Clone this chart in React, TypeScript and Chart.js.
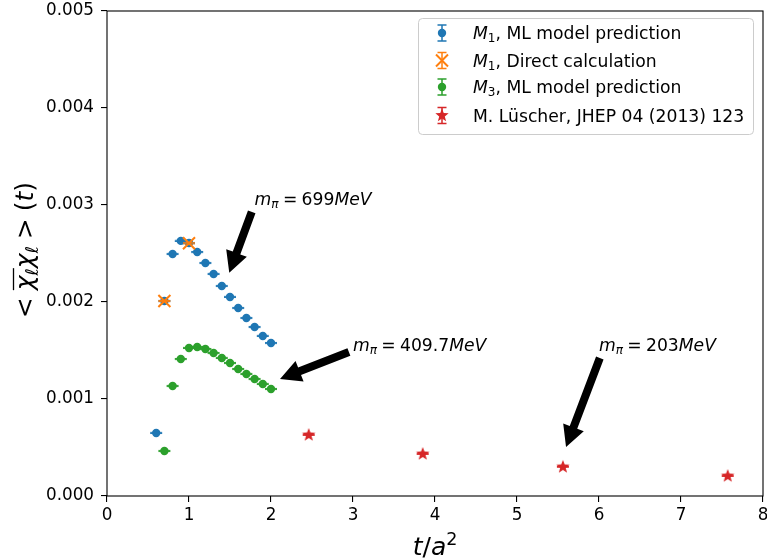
import { useEffect, useRef } from 'react';
import { Chart, registerables } from 'chart.js';

Chart.register(...registerables);

// ---------- data ----------
const blueT = [0.6, 0.7, 0.8, 0.9, 1.0, 1.1, 1.2, 1.3, 1.4, 1.5, 1.6, 1.7, 1.8, 1.9, 2.0];
const blueV = [0.00065, 0.00201, 0.002495, 0.00263, 0.002608, 0.002515, 0.002402, 0.002289, 0.002165, 0.002052, 0.001938, 0.001835, 0.001742, 0.00165, 0.001577];
const blueErr = [0.000006, 0.000006, 0.000006, 0.000006, 0.000006, 0.000006, 0.000006, 0.000006, 0.000006, 0.000006, 0.000006, 0.000006, 0.000006, 0.000006, 0.000006];

const orangeT = [0.7, 1.0];
const orangeV = [0.00201, 0.002605];
const orangeErr = [0.000006, 0.000006];

const greenT = [0.7, 0.8, 0.9, 1.0, 1.1, 1.2, 1.3, 1.4, 1.5, 1.6, 1.7, 1.8, 1.9, 2.0];
const greenV = [0.000464, 0.001134, 0.001412, 0.001526, 0.001536, 0.001515, 0.001474, 0.001423, 0.001371, 0.001309, 0.001258, 0.001206, 0.001155, 0.001103];
const greenErr = [0.000006, 0.000006, 0.000006, 0.000006, 0.000006, 0.000006, 0.000006, 0.000006, 0.000006, 0.000006, 0.000006, 0.000006, 0.000006, 0.000006];

const redT = [2.46, 3.85, 5.56, 7.57];
const redV = [0.000629, 0.000433, 0.0003, 0.000206];
const redErr = [0.000004, 0.000004, 0.000004, 0.000004];

const xTicksMin = 0;
const xTicksMax = 8;
const yTicksMin = 0;
const yTicksMax = 0.005;

const annotTextX = [1.8, 3.0, 6.0];
const annotTextY = [0.003, 0.0015, 0.0015];
const annotMass = ['699', '409.7', '203'];
const arrowTailX = [1.765, 2.95, 6.01];
const arrowTailY = [0.00293, 0.001485, 0.001423];
const arrowTipX = [1.491, 2.11, 5.598];
const arrowTipY = [0.002302, 0.001206, 0.000505];

const legendLabels = [', ML model prediction', ', Direct calculation', ', ML model prediction', 'M. Lüscher, JHEP 04 (2013) 123'];
const legendSubs = ['1', '1', '3', ''];

// ---------- style ----------
const BLUE = '#1f77b4';
const ORANGE = '#ff7f0e';
const GREEN = '#2ca02c';
const RED = '#d62728';
const FAM = '"DejaVu Sans", sans-serif';
const TICK_SIZE = 16.8;
const TEXT_SIZE = 17.2;

type Run = { t: string; it?: boolean; s?: number; dy?: number; dx?: number };

function fontOf(r: Run, size: number) {
  return `${r.it ? 'italic ' : ''}${size * (r.s || 1)}px ${FAM}`;
}
function runsWidth(ctx: CanvasRenderingContext2D, runs: Run[], size: number) {
  let w = 0;
  for (const r of runs) {
    ctx.font = fontOf(r, size);
    w += (r.dx || 0) * size + ctx.measureText(r.t).width;
  }
  return w;
}
function drawRuns(ctx: CanvasRenderingContext2D, runs: Run[], x: number, y: number, size: number) {
  let cx = x;
  const pos: number[] = [];
  for (const r of runs) {
    ctx.font = fontOf(r, size);
    cx += (r.dx || 0) * size;
    pos.push(cx);
    ctx.fillText(r.t, cx, y + (r.dy || 0) * size);
    cx += ctx.measureText(r.t).width;
  }
  pos.push(cx);
  return pos;
}

function starPath(ctx: CanvasRenderingContext2D, x: number, y: number, R: number) {
  ctx.beginPath();
  for (let i = 0; i < 10; i++) {
    const r = i % 2 ? R * 0.42 : R;
    const a = -Math.PI / 2 + (i * Math.PI) / 5;
    ctx.lineTo(x + r * Math.cos(a), y + r * Math.sin(a));
  }
  ctx.closePath();
}

function makeStar(color: string, R: number) {
  const c = document.createElement('canvas');
  const s = Math.ceil(R * 2 + 2);
  c.width = s;
  c.height = s;
  const g = c.getContext('2d')!;
  starPath(g, s / 2, s / 2, R);
  g.fillStyle = color;
  g.fill();
  return c;
}

function drawArrow(ctx: CanvasRenderingContext2D, x0: number, y0: number, x1: number, y1: number) {
  const w = 8, hw = 22, hl = 21;
  const dx = x1 - x0, dy = y1 - y0;
  const L = Math.hypot(dx, dy);
  const ux = dx / L, uy = dy / L;
  const nx = -uy, ny = ux;
  const bx = x1 - ux * hl, by = y1 - uy * hl;
  ctx.beginPath();
  ctx.moveTo(x0 + nx * w / 2, y0 + ny * w / 2);
  ctx.lineTo(bx + nx * w / 2, by + ny * w / 2);
  ctx.lineTo(bx + nx * hw / 2, by + ny * hw / 2);
  ctx.lineTo(x1, y1);
  ctx.lineTo(bx - nx * hw / 2, by - ny * hw / 2);
  ctx.lineTo(bx - nx * w / 2, by - ny * w / 2);
  ctx.lineTo(x0 - nx * w / 2, y0 - ny * w / 2);
  ctx.closePath();
  ctx.fillStyle = '#000';
  ctx.fill();
}

const errs = [blueErr, orangeErr, greenErr, redErr];
const colors = [BLUE, ORANGE, GREEN, RED];

const overlayPlugin = {
  id: 'overlay',
  afterDatasetDraw(chart: any, args: any) {
    const ctx: CanvasRenderingContext2D = chart.ctx;
    const idx = args.index;
    const ds = chart.data.datasets[idx];
    const xs = chart.scales.x, ys = chart.scales.y;
    const e = errs[idx];
    ctx.save();
    ctx.strokeStyle = colors[idx];
    ctx.lineWidth = 1;
    ds.data.forEach((p: any, i: number) => {
      const px = xs.getPixelForValue(p.x);
      const pt = ys.getPixelForValue(p.y + e[i]);
      const pb = ys.getPixelForValue(p.y - e[i]);
      ctx.beginPath();
      ctx.moveTo(px, pt);
      ctx.lineTo(px, pb);
      ctx.moveTo(px - 6, pt);
      ctx.lineTo(px + 6, pt);
      ctx.moveTo(px - 6, pb);
      ctx.lineTo(px + 6, pb);
      ctx.stroke();
    });
    ctx.restore();
  },
  afterDraw(chart: any) {
    const ctx: CanvasRenderingContext2D = chart.ctx;
    const { left, right, top, bottom } = chart.chartArea;
    const xs = chart.scales.x, ys = chart.scales.y;
    ctx.save();
    // frame
    ctx.strokeStyle = '#000';
    ctx.lineWidth = 1.1;
    ctx.strokeRect(left, top, right - left, bottom - top);

    // arrows + annotations
    ctx.textBaseline = 'alphabetic';
    ctx.textAlign = 'left';
    for (let i = 0; i < annotMass.length; i++) {
      drawArrow(ctx, xs.getPixelForValue(arrowTailX[i]), ys.getPixelForValue(arrowTailY[i]),
        xs.getPixelForValue(arrowTipX[i]), ys.getPixelForValue(arrowTipY[i]));
      ctx.fillStyle = '#000';
      const runs: Run[] = [
        { t: 'm', it: true },
        { t: 'π', it: true, s: 0.7, dy: 0.2 },
        { t: '=', dx: 0.25 },
        { t: annotMass[i], dx: 0.25 },
        { t: 'MeV', it: true },
      ];
      drawRuns(ctx, runs, xs.getPixelForValue(annotTextX[i]), ys.getPixelForValue(annotTextY[i]), TEXT_SIZE);
    }

    // legend
    const lx0 = 418, ly0 = 18, lx1 = 753, ly1 = 134;
    ctx.beginPath();
    (ctx as any).roundRect(lx0 + 0.5, ly0 + 0.5, lx1 - lx0, ly1 - ly0, 4);
    ctx.fillStyle = 'rgba(255,255,255,0.8)';
    ctx.fill();
    ctx.strokeStyle = '#cccccc';
    ctx.lineWidth = 1;
    ctx.stroke();
    const rowY = [33, 60.5, 87, 115.5];
    const mx = 442;
    for (let i = 0; i < 4; i++) {
      const y = rowY[i];
      ctx.strokeStyle = colors[i];
      ctx.lineWidth = 1.5;
      ctx.beginPath();
      ctx.moveTo(mx, y - 8);
      ctx.lineTo(mx, y + 8);
      ctx.moveTo(mx - 4.5, y - 8);
      ctx.lineTo(mx + 4.5, y - 8);
      ctx.moveTo(mx - 4.5, y + 8);
      ctx.lineTo(mx + 4.5, y + 8);
      ctx.stroke();
      if (i === 1) {
        ctx.lineWidth = 2;
        ctx.beginPath();
        ctx.moveTo(mx - 6, y - 6);
        ctx.lineTo(mx + 6, y + 6);
        ctx.moveTo(mx - 6, y + 6);
        ctx.lineTo(mx + 6, y - 6);
        ctx.stroke();
      } else if (i === 3) {
        starPath(ctx, mx, y, 7);
        ctx.fillStyle = colors[i];
        ctx.fill();
      } else {
        ctx.beginPath();
        ctx.arc(mx, y, 4.2, 0, Math.PI * 2);
        ctx.fillStyle = colors[i];
        ctx.fill();
      }
      ctx.fillStyle = '#000';
      const runs: Run[] = legendSubs[i]
        ? [{ t: 'M', it: true }, { t: legendSubs[i], s: 0.7, dy: 0.2 }, { t: legendLabels[i] }]
        : [{ t: legendLabels[i] }];
      drawRuns(ctx, runs, 473, y + 6, TEXT_SIZE);
    }

    // x label
    const LS = 25;
    const xl: Run[] = [{ t: 't', it: true }, { t: '/' }, { t: 'a', it: true }, { t: '2', s: 0.7, dy: -0.42 }];
    const xw = runsWidth(ctx, xl, LS);
    ctx.fillStyle = '#000';
    drawRuns(ctx, xl, (left + right) / 2 - xw / 2, 555, LS);

    // y label
    const yl: Run[] = [
      { t: '<' },
      { t: 'χ', it: true, dx: 0.28 },
      { t: 'ℓ', it: true, s: 0.7, dy: 0.2 },
      { t: 'χ', it: true },
      { t: 'ℓ', it: true, s: 0.7, dy: 0.2 },
      { t: '>', dx: 0.28 },
      { t: '(', dx: 0.28 },
      { t: 't', it: true },
      { t: ')' },
    ];
    const yw = runsWidth(ctx, yl, LS);
    ctx.save();
    ctx.translate(33, 250);
    ctx.rotate(-Math.PI / 2);
    const pos = drawRuns(ctx, yl, -yw / 2, 0, LS);
    ctx.strokeStyle = '#000';
    ctx.lineWidth = 1.3;
    ctx.beginPath();
    ctx.moveTo(pos[1], -0.78 * LS);
    ctx.lineTo(pos[3], -0.78 * LS);
    ctx.stroke();
    ctx.restore();

    ctx.restore();
  },
};

export default function App() {
  const ref = useRef<HTMLCanvasElement>(null);
  useEffect(() => {
    if (!ref.current) return;
    const star = makeStar(RED, 7);
    const tickFont = { family: FAM, size: TICK_SIZE };
    const chart = new Chart(ref.current, {
      type: 'scatter',
      data: {
        datasets: [
          {
            label: 'M1, ML model prediction',
            data: blueT.map((t, i) => ({ x: t, y: blueV[i] })),
            pointStyle: 'circle', pointRadius: 4.2, backgroundColor: BLUE, borderWidth: 0, order: 4,
          },
          {
            label: 'M1, Direct calculation',
            data: orangeT.map((t, i) => ({ x: t, y: orangeV[i] })),
            pointStyle: 'crossRot', pointRadius: 8.5, borderColor: ORANGE, backgroundColor: ORANGE, borderWidth: 2, order: 3,
          },
          {
            label: 'M3, ML model prediction',
            data: greenT.map((t, i) => ({ x: t, y: greenV[i] })),
            pointStyle: 'circle', pointRadius: 4.2, backgroundColor: GREEN, borderWidth: 0, order: 2,
          },
          {
            label: 'M. Lüscher, JHEP 04 (2013) 123',
            data: redT.map((t, i) => ({ x: t, y: redV[i] })),
            pointStyle: star as any, pointRadius: 7, backgroundColor: RED, borderWidth: 0, order: 1,
          },
        ],
      },
      options: {
        responsive: false,
        animation: false,
        devicePixelRatio: 1,
        events: [],
        layout: { autoPadding: false, padding: { left: 0, top: 11, right: 4, bottom: 0 } },
        plugins: { legend: { display: false }, tooltip: { enabled: false } },
        scales: {
          x: {
            type: 'linear',
            min: xTicksMin,
            max: xTicksMax,
            ticks: { stepSize: 1, font: tickFont, color: '#000', padding: 4, maxRotation: 0, autoSkip: false },
            grid: { drawOnChartArea: false, color: '#000', tickLength: 6, lineWidth: 1.1 },
            border: { display: false },
            afterFit: (s: any) => { s.height = 63; s.paddingLeft = 0; s.paddingRight = 0; },
          },
          y: {
            type: 'linear',
            min: yTicksMin,
            max: yTicksMax,
            ticks: {
              stepSize: 0.001, font: tickFont, color: '#000', padding: 7, autoSkip: false,
              callback: (v: any) => Number(v).toFixed(3),
            },
            grid: { drawOnChartArea: false, color: '#000', tickLength: 6, lineWidth: 1.1 },
            border: { display: false },
            afterFit: (s: any) => { s.width = 107; s.paddingTop = 0; s.paddingBottom = 0; },
          },
        },
      },
      plugins: [overlayPlugin],
    });
    return () => chart.destroy();
  }, []);
  return (
    <div style={{ position: 'fixed', left: 0, top: 0, width: 767, height: 559, background: '#fff' }}>
      <canvas ref={ref} width={767} height={559} style={{ display: 'block' }} />
    </div>
  );
}
